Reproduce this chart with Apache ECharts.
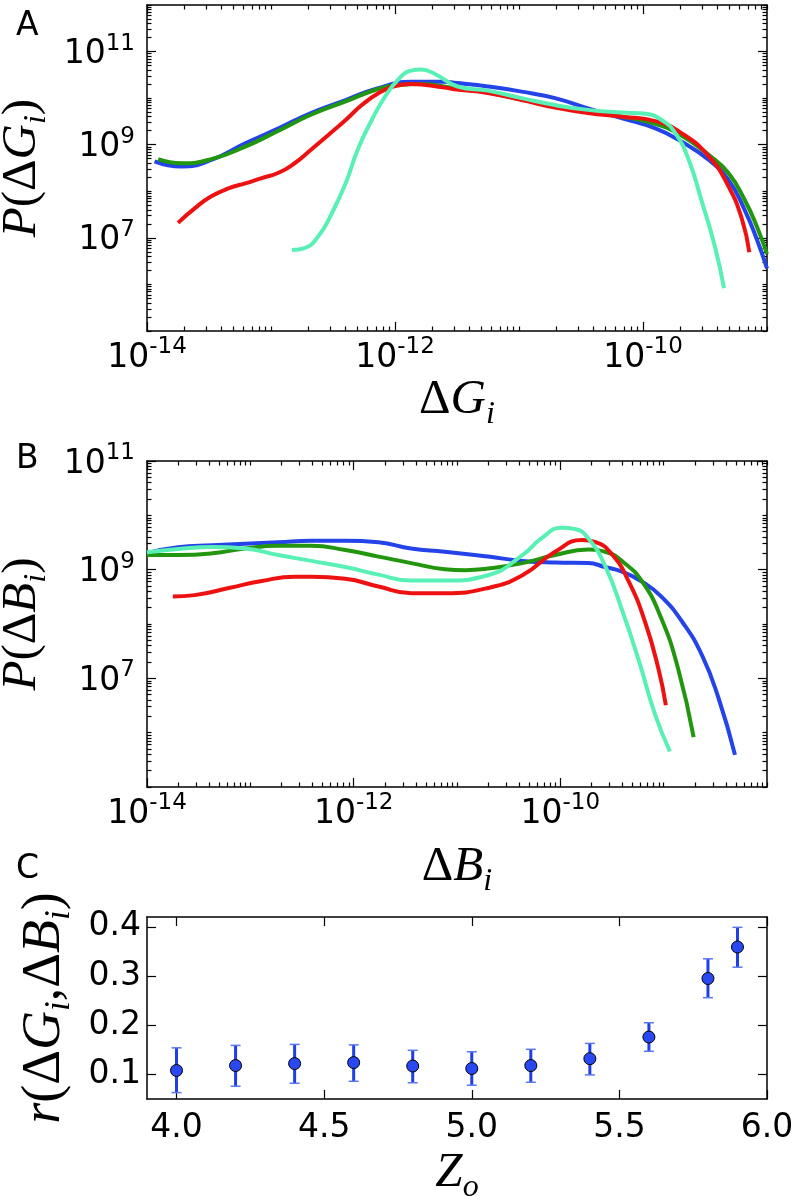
<!DOCTYPE html>
<html><head><meta charset="utf-8">
<script src="https://cdn.jsdelivr.net/npm/echarts@6/dist/echarts.min.js"></script>
<style>html,body{margin:0;padding:0;background:#fff}#c{width:796px;height:1196px}</style>
</head><body><div id="c"></div><script>
// ---------- Panel A: P(ΔG_i) vs ΔG_i  ([ΔG, P]) ----------
const aBlue = [[1.15e-14,4.4e8],[1.9e-14,3.4e8],[3.3e-14,4.7e8],[6.2e-14,1.07e9],[1.15e-13,2.24e9],[2.1e-13,4.8e9],[4e-13,9.1e9],[7.2e-13,1.62e10],[1.35e-12,2.24e10],[2.5e-12,2.24e10],[3e-12,2.14e10],[5.6e-12,1.78e10],[1.05e-11,1.38e10],[1.95e-11,1.0e10],[3.6e-11,6.0e9],[6.8e-11,3.7e9],[1.26e-10,2.24e9],[2.04e-10,1.17e9],[3.4e-10,4.7e8],[4.9e-10,1.74e8],[6.6e-10,4.0e7],[8.3e-10,9.1e6],[1e-9,2.2e6]];
const aGreen = [[1.23e-14,4.9e8],[1.9e-14,4.0e8],[3.3e-14,4.9e8],[6.2e-14,9.1e8],[1.15e-13,2.0e9],[2.1e-13,4.4e9],[4e-13,8.5e9],[7.2e-13,1.55e10],[1.05e-12,1.9e10],[1.6e-12,2.0e10],[3e-12,1.66e10],[5.6e-12,1.32e10],[1.05e-11,9.3e9],[1.95e-11,6.6e9],[3.6e-11,5.0e9],[6.8e-11,4.0e9],[1.26e-10,2.8e9],[2.04e-10,1.58e9],[3.4e-10,6.0e8],[4.9e-10,2.45e8],[6.6e-10,6.6e7],[8.3e-10,1.74e7],[1e-9,4.5e6]];
const aRed = [[1.78e-14,2.1e7],[2.45e-14,4.4e7],[3.3e-14,7.8e7],[4.6e-14,1.17e8],[6.2e-14,1.48e8],[8.3e-14,1.9e8],[1.15e-13,2.5e8],[1.55e-13,4.0e8],[2.1e-13,7.8e8],[2.9e-13,1.62e9],[4e-13,3.4e9],[5.4e-13,7.1e9],[7.4e-13,1.29e10],[1e-12,1.82e10],[1.35e-12,2.0e10],[2.5e-12,1.7e10],[3e-12,1.55e10],[5.6e-12,1.29e10],[1.05e-11,9.1e9],[1.95e-11,6.3e9],[3.6e-11,4.8e9],[6.8e-11,4.0e9],[1.26e-10,3.2e9],[2.04e-10,1.78e9],[3.4e-10,5.6e8],[4.9e-10,1.26e8],[6.3e-10,2.45e7],[7.2e-10,4.9e6]];
const aCyan = [[1.48e-13,5.5e6],[1.86e-13,6.0e6],[2.4e-13,1.07e7],[3.1e-13,3.4e7],[4e-13,1.48e8],[5e-13,7.8e8],[6.5e-13,3.4e9],[8.3e-13,1.07e10],[1.07e-12,2.57e10],[1.35e-12,3.9e10],[1.62e-12,4.1e10],[2.1e-12,3.3e10],[3.2e-12,1.78e10],[5.6e-12,1.45e10],[1.05e-11,1.0e10],[1.95e-11,7.1e9],[3.6e-11,5.6e9],[6.8e-11,4.9e9],[1.05e-10,4.6e9],[1.41e-10,3.4e9],[1.82e-10,1.78e9],[2.34e-10,4.7e8],[2.95e-10,6.6e7],[3.8e-10,6.5e6],[4.5e-10,8.3e5]];

// ---------- Panel B: P(ΔB_i) vs ΔB_i ----------
const bBlue = [[1e-14,2.0e9],[2e-14,2.6e9],[4.3e-14,2.8e9],[8.9e-14,3.0e9],[1.86e-13,3.2e9],[3.9e-13,3.4e9],[8.3e-13,3.4e9],[1.74e-12,3.2e9],[3.6e-12,2.45e9],[7.6e-12,2.14e9],[2e-11,1.74e9],[4.3e-11,1.45e9],[8.9e-11,1.35e9],[1.86e-10,1.32e9],[2.7e-10,1.12e9],[4e-10,9.1e8],[6.2e-10,6.0e8],[9.5e-10,3.2e8],[1.51e-9,1.1e8],[2.34e-9,2.7e7],[3.4e-9,4.3e6],[4.9e-9,3.9e5]];
const bGreen = [[1e-14,1.86e9],[2e-14,1.86e9],[4.3e-14,2.0e9],[8.9e-14,2.45e9],[1.86e-13,2.75e9],[3.9e-13,2.75e9],[8.3e-13,2.3e9],[1.74e-12,1.74e9],[3.6e-12,1.32e9],[7.6e-12,1.02e9],[1.2e-11,9.8e8],[2e-11,1.05e9],[4.3e-11,1.32e9],[8.9e-11,1.86e9],[1.86e-10,2.34e9],[2.7e-10,2.14e9],[4e-10,1.41e9],[6.2e-10,6.0e8],[9.5e-10,1.26e8],[1.38e-9,1.5e7],[1.95e-9,8.3e5]];
const bRed = [[1.78e-14,3.2e8],[2.9e-14,3.4e8],[6.2e-14,4.6e8],[1.29e-13,6.2e8],[2.7e-13,7.4e8],[3.9e-13,7.4e8],[8.3e-13,6.8e8],[1.74e-12,4.9e8],[3.6e-12,3.7e8],[7.6e-12,3.7e8],[2e-11,4.6e8],[4.3e-11,7.9e8],[8.9e-11,2.14e9],[1.62e-10,3.5e9],[2.2e-10,3.2e9],[3.2e-10,1.86e9],[4.6e-10,6.0e8],[6.6e-10,1.1e8],[8.9e-10,1.5e7],[1.05e-9,3.2e6]];
const bCyan = [[1e-14,2.1e9],[2e-14,2.4e9],[4.3e-14,2.6e9],[8.9e-14,2.45e9],[1.86e-13,1.86e9],[3.9e-13,1.45e9],[8.3e-13,1.12e9],[1.74e-12,8.1e8],[3.6e-12,6.3e8],[7.6e-12,6.3e8],[2e-11,7.9e8],[4.3e-11,1.86e9],[6.6e-11,3.8e9],[1.02e-10,5.9e9],[1.38e-10,5.6e9],[1.86e-10,3.8e9],[2.7e-10,1.2e9],[4e-10,1.7e8],[5.8e-10,2.0e7],[8.3e-10,2.1e6],[1.15e-9,4.5e5]];

// ---------- Panel C: r(ΔG_i,ΔB_i) vs Z_o ----------
const zo    = [4.0, 4.2, 4.4, 4.6, 4.8, 5.0, 5.2, 5.4, 5.6, 5.8, 5.9];
const rVal  = [0.108,0.118,0.122,0.124,0.117,0.112,0.118,0.132,0.176,0.295,0.359];
const rLow  = [0.063,0.076,0.082,0.086,0.083,0.078,0.084,0.099,0.147,0.256,0.318];
const rHigh = [0.154,0.159,0.161,0.160,0.149,0.146,0.151,0.163,0.205,0.335,0.399];

// ---------- tick labels ----------
const aXTicks = [1e-14, 1e-12, 1e-10];
const aYTicks = [1e7, 1e9, 1e11];
const bXTicks = [1e-14, 1e-12, 1e-10];
const bYTicks = [1e7, 1e9, 1e11];
const cXTicks = [4.0, 4.5, 5.0, 5.5, 6.0];
const cYTicks = [0.1, 0.2, 0.3, 0.4];

const COLORS = {blue:'#2443e8', green:'#22960f', red:'#ee1111', cyan:'#58f0b4'};

function minorLog(lo, hi, majors){
  const out = [];
  for (let e = lo; e <= hi; e++) {
    for (let k = 1; k < 10; k++) {
      const v = k * Math.pow(10, e);
      if (e === hi && k > 1) break;
      if (!majors.some(m => Math.abs(m - v) / m < 1e-6)) out.push(v);
    }
  }
  return out;
}
const powRich = {
  b:{fontFamily:'DejaVu Sans', fontSize:33, color:'#000', verticalAlign:'bottom'},
  s:{fontFamily:'DejaVu Sans', fontSize:23, color:'#000', verticalAlign:'bottom', padding:[0,0,16,0]}
};
function fmtPow(v){ const e = Math.round(Math.log10(v)); return '{b|10}{s|' + e + '}'; }
const MF = 'Liberation Serif';
function mathStyles(big, small, lift){
  return {
    it:{fontFamily:MF, fontStyle:'italic', fontSize:big, color:'#000', verticalAlign:'bottom', padding:[0,0,lift,0]},
    up:{fontFamily:MF, fontSize:big, color:'#000', verticalAlign:'bottom', padding:[0,0,lift,0]},
    sub:{fontFamily:MF, fontStyle:'italic', fontSize:small, color:'#000', verticalAlign:'bottom'}
  };
}
const mathRich = mathStyles(49, 32, 6);
const mathRichC = mathStyles(54, 35, 6);
const TL = {color:'#000', width:1.2};
const AL = {color:'#000', width:1.5};

function axesSet(dim, gi, type, min, max, majors, minors, labelOpt, nameOpt){
  const posA = dim === 'x' ? 'bottom' : 'left';
  const posB = dim === 'x' ? 'top' : 'right';
  const base = {type:type, gridIndex:gi, min:min, max:max, splitLine:{show:false}, scale:true};
  if (type === 'log') base.logBase = 10;
  const list = [];
  list.push(Object.assign({}, base, {position:posA,
    axisLine:{show:true, onZero:false, lineStyle:AL},
    axisTick:{show:true, inside:true, length:9, lineStyle:TL, customValues:majors},
    axisLabel:Object.assign({show:true, customValues:majors, color:'#000'}, labelOpt)}, nameOpt));
  list.push(Object.assign({}, base, {position:posB,
    axisLine:{show:true, onZero:false, lineStyle:AL},
    axisTick:{show:true, inside:true, length:9, lineStyle:TL, customValues:majors},
    axisLabel:{show:false}}));
  if (minors && minors.length){
    [posA, posB].forEach(p => list.push(Object.assign({}, base, {position:p,
      axisLine:{show:false, onZero:false},
      axisTick:{show:true, inside:true, length:4.5, lineStyle:TL, customValues:minors},
      axisLabel:{show:false}})));
  }
  return list;
}

const xAxes = [], yAxes = [];
function addPanel(gi, xCfg, yCfg){
  const xi = xAxes.length, yi = yAxes.length;
  xAxes.push(...axesSet('x', gi, ...xCfg));
  yAxes.push(...axesSet('y', gi, ...yCfg));
  return [xi, yi];
}
const logXLabel = {formatter:fmtPow, rich:powRich, margin:5};
const logYLabel = {formatter:fmtPow, rich:powRich, margin:12};

const [axA, ayA] = addPanel(0,
  ['log', 1e-14, 1e-9, aXTicks, minorLog(-14,-9,aXTicks), logXLabel,
   {name:'{up|Δ}{it|G}{sub|i}', nameLocation:'middle', nameGap:43, nameTextStyle:{rich:mathRich}}],
  ['log', 1e5, 1e12, aYTicks, minorLog(5,12,aYTicks), logYLabel,
   {name:'{it|P}{up|(Δ}{it|G}{sub|i}{up|)}', nameLocation:'middle', nameRotate:90, nameGap:92, nameTextStyle:{rich:mathRich}}]);
const [axB, ayB] = addPanel(1,
  ['log', 1e-14, 1e-8, bXTicks, minorLog(-14,-8,bXTicks), logXLabel,
   {name:'{up|Δ}{it|B}{sub|i}', nameLocation:'middle', nameGap:56, nameTextStyle:{rich:mathRich}}],
  ['log', 1e5, 1e11, bYTicks, minorLog(5,11,bYTicks), logYLabel,
   {name:'{it|P}{up|(Δ}{it|B}{sub|i}{up|)}', nameLocation:'middle', nameRotate:90, nameGap:92, nameTextStyle:{rich:mathRich}}]);
const cLabel = {fontFamily:'DejaVu Sans', fontSize:33, color:'#000'};
const [axC, ayC] = addPanel(2,
  ['value', 3.9, 6.0, cXTicks, [], Object.assign({margin:13, formatter:v => v.toFixed(1)}, cLabel),
   {name:'{it|Z}{sub|o}', nameLocation:'middle', nameGap:50, nameTextStyle:{rich:mathRich}}],
  ['value', 0.05, 0.42, cYTicks, [], Object.assign({margin:6, formatter:v => v.toFixed(1)}, cLabel),
   {name:'{it|r}{up|(Δ}{it|G}{sub|i}{up|,Δ}{it|B}{sub|i}{up|)}', nameLocation:'middle', nameRotate:90, nameGap:68, nameTextStyle:{rich:mathRichC}}]);

function line(data, color, xi, yi){
  return {type:'line', data:data, xAxisIndex:xi, yAxisIndex:yi, showSymbol:false, smooth:0.5,
    lineStyle:{color:color, width:4}, itemStyle:{color:color}, clip:true, animation:false};
}

const gridBase = {containLabel:false, outerBoundsMode:'none'};
const option = {
  animation:false,
  backgroundColor:'#fff',
  grid:[
    Object.assign({left:147, top:5, width:620, height:326}, gridBase),
    Object.assign({left:147, top:461, width:620, height:326}, gridBase),
    Object.assign({left:147, top:917, width:620, height:182}, gridBase)
  ],
  xAxis:xAxes, yAxis:yAxes,
  graphic:[
    {type:'text', left:16, top:10, style:{text:'A', fontSize:33, fontFamily:'DejaVu Sans', fill:'#000'}},
    {type:'text', left:16, top:443, style:{text:'B', fontSize:33, fontFamily:'DejaVu Sans', fill:'#000'}},
    {type:'text', left:16, top:853, style:{text:'C', fontSize:33, fontFamily:'DejaVu Sans', fill:'#000'}}
  ],
  series:[
    line(aBlue, COLORS.blue, axA, ayA), line(aGreen, COLORS.green, axA, ayA),
    line(aRed, COLORS.red, axA, ayA), line(aCyan, COLORS.cyan, axA, ayA),
    line(bBlue, COLORS.blue, axB, ayB), line(bGreen, COLORS.green, axB, ayB),
    line(bRed, COLORS.red, axB, ayB), line(bCyan, COLORS.cyan, axB, ayB),
    {type:'custom', xAxisIndex:axC, yAxisIndex:ayC,
     data: zo.map((z,i) => [z, rLow[i], rHigh[i]]),
     encode:{x:0, y:[1,2]},
     renderItem:function(params, api){
       const x = api.value(0);
       const p1 = api.coord([x, api.value(1)]);
       const p2 = api.coord([x, api.value(2)]);
       const cw = 5;
       return {type:'group', children:[
         {type:'line', shape:{x1:p1[0], y1:p1[1], x2:p2[0], y2:p2[1]}, style:{stroke:'#1f3ee8', lineWidth:3}},
         {type:'line', shape:{x1:p1[0]-cw, y1:p1[1], x2:p1[0]+cw, y2:p1[1]}, style:{stroke:'#5a78f0', lineWidth:1.5}},
         {type:'line', shape:{x1:p2[0]-cw, y1:p2[1], x2:p2[0]+cw, y2:p2[1]}, style:{stroke:'#5a78f0', lineWidth:1.5}}
       ]};
     }, z:2},
    {type:'scatter', xAxisIndex:axC, yAxisIndex:ayC, data: zo.map((z,i) => [z, rVal[i]]),
     symbol:'circle', symbolSize:12, itemStyle:{color:'#2a48f2', borderColor:'#000', borderWidth:1, opacity:1}, z:3}
  ]
};
const chart = echarts.init(document.getElementById('c'), null, {renderer:'canvas'});
chart.setOption(option);
</script></body></html>
